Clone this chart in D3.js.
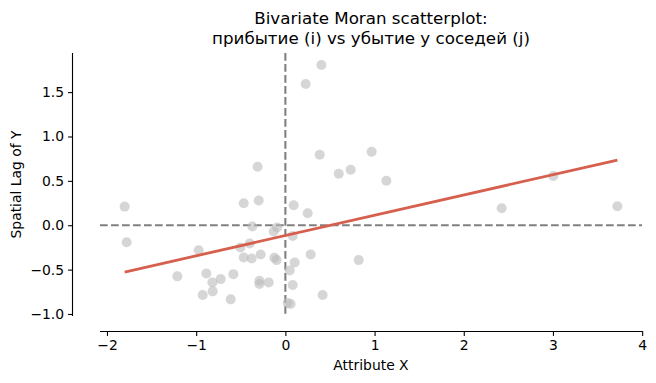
<!DOCTYPE html>
<html>
<head>
<meta charset="utf-8">
<script src="https://cdn.jsdelivr.net/npm/d3@7"></script>
<style>
  body { margin: 0; background: #fff; }
  text { font-family: "DejaVu Sans", sans-serif; fill: #000; }
</style>
</head>
<body>
<svg id="chart" width="656" height="383"></svg>
<script>
// attribute x (standardised) for each unit
const attrX = [-1.802, -1.779, -0.311, 0.385, 0.967, 0.598, 0.732, -0.467, -0.299, 0.093,
  0.250, -0.370, -0.093, -0.131, 0.082, -0.400, -0.504, -0.972, -0.467, -0.378,
  -0.277, -0.123, -0.098, 0.284, 0.104, 0.822, 0.048, -1.211, -0.886, -0.725,
  -0.583, -0.818, -0.291, -0.291, -0.187, 0.082, -0.927, -0.815, -0.613, 0.418,
  0.026, 0.059, 0.404, 0.228, 1.132, 2.425, 3.004, 3.722];
// spatial lag of y for the same units
const lagY = [0.210, -0.191, 0.660, 0.794, 0.828, 0.581, 0.626, 0.247, 0.278, 0.225,
  0.135, -0.015, -0.026, -0.071, -0.120, -0.206, -0.251, -0.281, -0.363, -0.374,
  -0.329, -0.367, -0.393, -0.329, -0.419, -0.393, -0.509, -0.576, -0.543, -0.607,
  -0.551, -0.644, -0.626, -0.663, -0.644, -0.674, -0.787, -0.745, -0.835, -0.787,
  -0.876, -0.888, 1.806, 1.592, 0.502, 0.191, 0.554, 0.213];

const fitSlope = 0.2285;
const fitIntercept = -0.116;

const xTicks = [-2, -1, 0, 1, 2, 3, 4];
const yTicks = [-1.0, -0.5, 0.0, 0.5, 1.0, 1.5];

const titleLines = ["Bivariate Moran scatterplot:", "прибытие (i) vs убытие у соседей (j)"];
const xLabel = "Attribute X";
const yLabel = "Spatial Lag of Y";

const points = attrX.map((x, i) => ({x: x, y: lagY[i]}));

// plot area (axes box) in px
const boxL = 100, boxR = 642, boxT = 53, boxB = 316;

// matplotlib style 5% margins
function padded(ext) {
  const m = (ext[1] - ext[0]) * 0.05;
  return [ext[0] - m, ext[1] + m];
}
const xScale = d3.scaleLinear().domain(padded(d3.extent(attrX))).range([boxL, boxR]);
const yScale = d3.scaleLinear().domain(padded(d3.extent(lagY))).range([boxB, boxT]);

const svg = d3.select('#chart');
const fmtMinus = s => s.replace('-', '\u2212');

// reference lines at 0
svg.append('line')
  .attr('x1', xScale(0)).attr('x2', xScale(0))
  .attr('y1', boxT).attr('y2', boxB)
  .attr('stroke', '#000').attr('stroke-opacity', 0.5)
  .attr('stroke-width', 2.08).attr('stroke-dasharray', '7.7,3.3');
svg.append('line')
  .attr('x1', boxL).attr('x2', boxR)
  .attr('y1', yScale(0)).attr('y2', yScale(0))
  .attr('stroke', '#000').attr('stroke-opacity', 0.5)
  .attr('stroke-width', 2.08).attr('stroke-dasharray', '7.7,3.3');

// scatter
svg.append('g').selectAll('circle')
  .data(points).enter()
  .append('circle')
    .attr('cx', d => xScale(d.x))
    .attr('cy', d => yScale(d.y))
    .attr('r', 5)
    .attr('fill', '#bababa')
    .attr('fill-opacity', 0.6);

// fit line over the data range
const xr = d3.extent(attrX);
svg.append('line')
  .attr('x1', xScale(xr[0])).attr('y1', yScale(fitIntercept + fitSlope * xr[0]))
  .attr('x2', xScale(xr[1])).attr('y2', yScale(fitIntercept + fitSlope * xr[1]))
  .attr('stroke', '#d6604d').attr('stroke-width', 2.8);

// axes, spines offset like sns.despine(offset=...)
const xAxis = d3.axisBottom(xScale).tickValues(xTicks).tickSize(4.9).tickPadding(4)
  .tickFormat(d => fmtMinus(d3.format('d')(d)));
const gx = svg.append('g').attr('transform', 'translate(0,331)').call(xAxis);

const yAxis = d3.axisLeft(yScale).tickValues(yTicks).tickSize(4.9).tickPadding(4)
  .tickFormat(d => fmtMinus(d3.format('.1f')(d)));
const gy = svg.append('g').attr('transform', 'translate(73,0)').call(yAxis);

[gx, gy].forEach(g => {
  g.select('.domain').attr('stroke', '#000').attr('stroke-width', 1.1);
  g.selectAll('.tick line').attr('stroke', '#000').attr('stroke-width', 1.1);
  g.selectAll('.tick text').style('font-size', '13.9px').attr('fill', '#000');
});
// plain spine without outer ticks
gx.select('.domain').attr('d', `M${boxL},0.5H${boxR}`);
gy.select('.domain').attr('d', `M-0.5,${boxT}V${boxB}`);

// labels
svg.append('text')
  .attr('x', (boxL + boxR) / 2).attr('y', 370)
  .attr('text-anchor', 'middle').style('font-size', '13.9px')
  .text(xLabel);
svg.append('text')
  .attr('transform', `translate(21,${(boxT + boxB) / 2}) rotate(-90)`)
  .attr('text-anchor', 'middle').style('font-size', '13.9px')
  .text(yLabel);

svg.append('g').selectAll('text')
  .data(titleLines).enter()
  .append('text')
    .attr('x', (boxL + boxR) / 2)
    .attr('y', (d, i) => 24 + i * 20)
    .attr('text-anchor', 'middle')
    .style('font-size', '16.7px')
    .text(d => d);
</script>
</body>
</html>
